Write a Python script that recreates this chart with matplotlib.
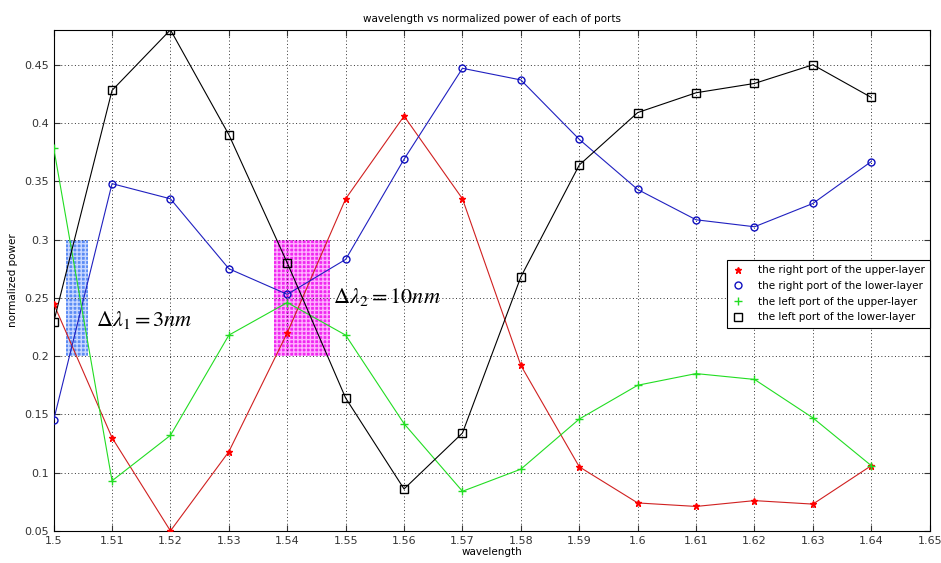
import numpy as np
import matplotlib.pyplot as plt
from matplotlib.patches import Rectangle
from matplotlib.ticker import FuncFormatter

plt.rcParams['mathtext.fontset'] = 'stix'

wavelength = [1.50, 1.51, 1.52, 1.53, 1.54, 1.55, 1.56, 1.57, 1.58, 1.59, 1.60, 1.61, 1.62, 1.63, 1.64]
right_upper = [0.245, 0.130, 0.050, 0.118, 0.220, 0.335, 0.406, 0.335, 0.192, 0.105, 0.074, 0.071, 0.076, 0.073, 0.106]
right_lower = [0.145, 0.348, 0.335, 0.275, 0.253, 0.283, 0.369, 0.447, 0.437, 0.386, 0.343, 0.317, 0.311, 0.331, 0.367]
left_upper = [0.379, 0.093, 0.132, 0.218, 0.246, 0.218, 0.142, 0.084, 0.103, 0.146, 0.175, 0.185, 0.180, 0.147, 0.106]
left_lower = [0.229, 0.428, 0.480, 0.390, 0.280, 0.164, 0.086, 0.134, 0.268, 0.364, 0.409, 0.426, 0.434, 0.450, 0.422]
labels = ['the right port of the upper-layer', 'the right port of the lower-layer',
          'the left port of the upper-layer', 'the left port of the lower-layer']

fig = plt.figure(figsize=(9.41, 5.63), dpi=100)
ax = fig.add_axes([0.057, 0.057, 0.931, 0.89])

# shaded bands
ax.add_patch(Rectangle((1.5022, 0.2), 0.0036, 0.1, facecolor='#5c8cf5', edgecolor='#c8d8ff',
                       hatch='++++', lw=0, zorder=1))
ax.add_patch(Rectangle((1.5377, 0.2), 0.0096, 0.1, facecolor='#f028f0', edgecolor='#ffb0ff',
                       hatch='++++', lw=0, zorder=1))

l1, = ax.plot(wavelength, right_upper, color='#d02020', marker='*', ms=5, mec='red', mfc='red', lw=0.8, zorder=3)
l2, = ax.plot(wavelength, right_lower, color='#2020c0', marker='o', ms=5, mfc='none', mec='#1010c0', lw=0.8, zorder=3)
l3, = ax.plot(wavelength, left_upper, color='#22dd22', marker='+', ms=6, lw=0.8, zorder=3)
l4, = ax.plot(wavelength, left_lower, color='black', marker='s', ms=5.5, mfc='none', lw=0.8, zorder=3)

ax.text(1.5072, 0.231, r'$\Delta\lambda_1 = 3nm$', fontsize=16, va='center', zorder=4)
ax.text(1.5478, 0.251, r'$\Delta\lambda_2 = 10nm$', fontsize=16, va='center', zorder=4)

ax.set_xlim(1.5, 1.65)
ax.set_ylim(0.05, 0.48)
ax.set_xticks(np.arange(1.5, 1.6501, 0.01))
ax.set_yticks(np.arange(0.05, 0.4501, 0.05))
fmt = FuncFormatter(lambda v, p: '%g' % round(v, 3))
ax.xaxis.set_major_formatter(fmt)
ax.yaxis.set_major_formatter(fmt)
ax.tick_params(direction='in', top=True, right=True, labelsize=8, colors='#333333', length=4)
ax.grid(True, linestyle=(0, (1, 2.5)), color='#333333', lw=0.7)

ax.set_title('wavelength vs normalized power of each of ports', fontsize=7.5)
ax.set_xlabel('wavelength', fontsize=7.5, labelpad=1)
ax.set_ylabel('normalized power', fontsize=7.5, labelpad=4)

leg = ax.legend([l1, l2, l3, l4], labels, loc='center right', bbox_to_anchor=(1.0, 0.473),
                borderaxespad=0, fontsize=7.5, handlelength=1.0, fancybox=False, framealpha=1,
                edgecolor='black', borderpad=0.5, labelspacing=0.55, handletextpad=1.4)
for h in leg.legend_handles:
    h.set_linestyle('none')
leg.get_frame().set_linewidth(0.8)

plt.savefig('out.png', dpi=100)
